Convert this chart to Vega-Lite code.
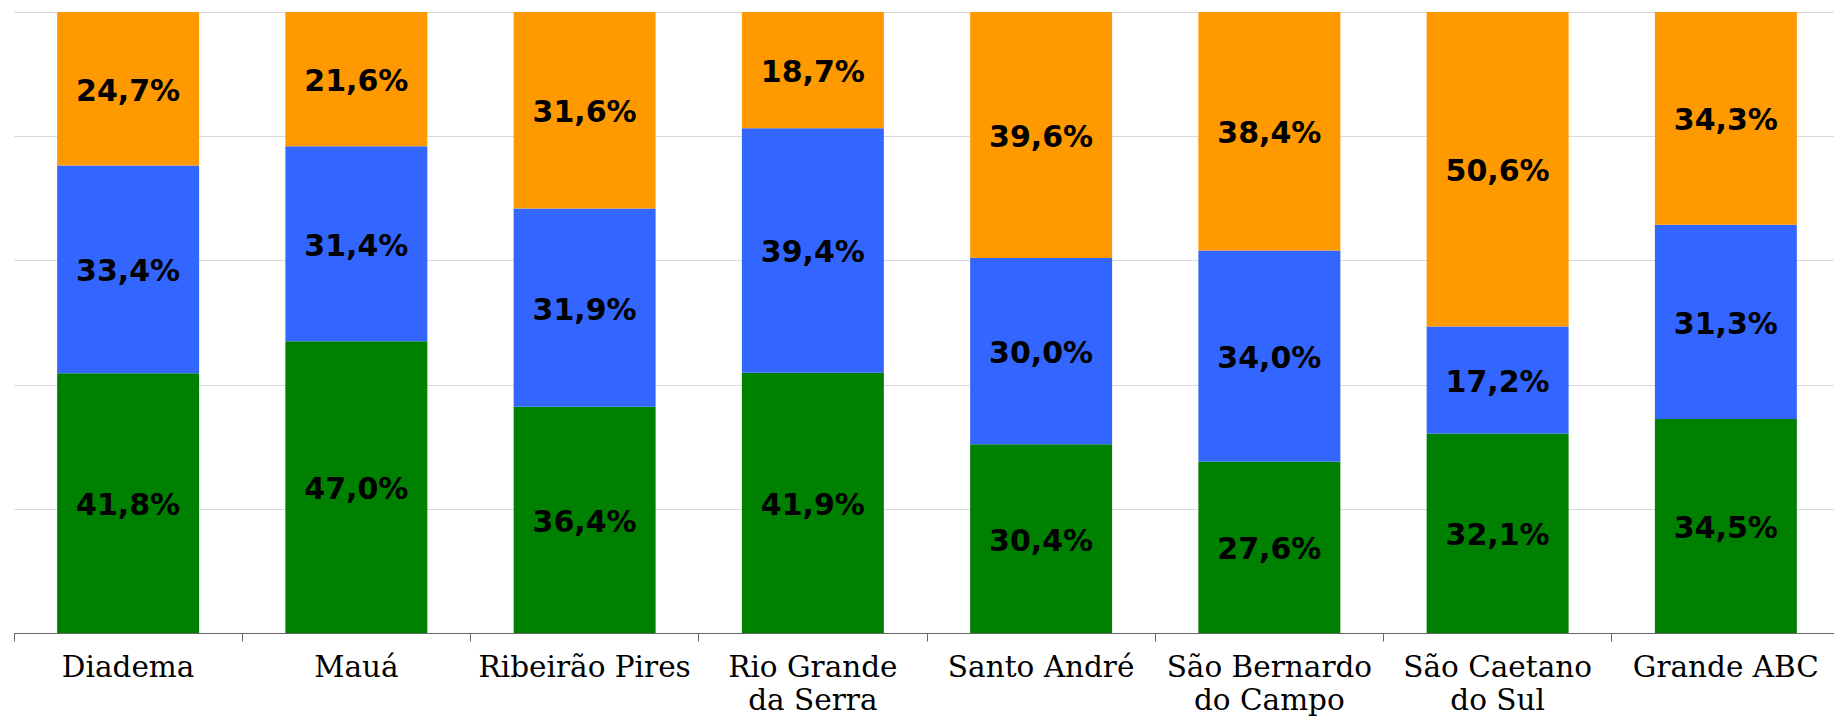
{
  "$schema": "https://vega.github.io/schema/vega-lite/v6.json",
  "width": 1820,
  "height": 621,
  "autosize": {"type": "none"},
  "padding": {"left": 14, "top": 12, "right": 0, "bottom": 84},
  "background": "#ffffff",
  "data": {
    "values": [
      {"cidade": "Diadema", "serie": "S1", "ordem": 1, "valor": 41.8},
      {"cidade": "Diadema", "serie": "S2", "ordem": 2, "valor": 33.4},
      {"cidade": "Diadema", "serie": "S3", "ordem": 3, "valor": 24.7},
      {"cidade": "Mauá", "serie": "S1", "ordem": 1, "valor": 47.0},
      {"cidade": "Mauá", "serie": "S2", "ordem": 2, "valor": 31.4},
      {"cidade": "Mauá", "serie": "S3", "ordem": 3, "valor": 21.6},
      {"cidade": "Ribeirão Pires", "serie": "S1", "ordem": 1, "valor": 36.4},
      {"cidade": "Ribeirão Pires", "serie": "S2", "ordem": 2, "valor": 31.9},
      {"cidade": "Ribeirão Pires", "serie": "S3", "ordem": 3, "valor": 31.6},
      {"cidade": "Rio Grande da Serra", "serie": "S1", "ordem": 1, "valor": 41.9},
      {"cidade": "Rio Grande da Serra", "serie": "S2", "ordem": 2, "valor": 39.4},
      {"cidade": "Rio Grande da Serra", "serie": "S3", "ordem": 3, "valor": 18.7},
      {"cidade": "Santo André", "serie": "S1", "ordem": 1, "valor": 30.4},
      {"cidade": "Santo André", "serie": "S2", "ordem": 2, "valor": 30.0},
      {"cidade": "Santo André", "serie": "S3", "ordem": 3, "valor": 39.6},
      {"cidade": "São Bernardo do Campo", "serie": "S1", "ordem": 1, "valor": 27.6},
      {"cidade": "São Bernardo do Campo", "serie": "S2", "ordem": 2, "valor": 34.0},
      {"cidade": "São Bernardo do Campo", "serie": "S3", "ordem": 3, "valor": 38.4},
      {"cidade": "São Caetano do Sul", "serie": "S1", "ordem": 1, "valor": 32.1},
      {"cidade": "São Caetano do Sul", "serie": "S2", "ordem": 2, "valor": 17.2},
      {"cidade": "São Caetano do Sul", "serie": "S3", "ordem": 3, "valor": 50.6},
      {"cidade": "Grande ABC", "serie": "S1", "ordem": 1, "valor": 34.5},
      {"cidade": "Grande ABC", "serie": "S2", "ordem": 2, "valor": 31.3},
      {"cidade": "Grande ABC", "serie": "S3", "ordem": 3, "valor": 34.3}
    ]
  },
  "transform": [
    {"stack": "valor", "groupby": ["cidade"], "sort": [{"field": "ordem", "order": "ascending"}], "offset": "normalize", "as": ["y0", "y1"]},
    {"calculate": "(datum.y0 + datum.y1) / 2", "as": "ymid"},
    {"calculate": "replace(format(datum.valor, '.1f'), '.', ',') + '%'", "as": "rotulo"}
  ],
  "encoding": {
    "x": {
      "field": "cidade",
      "type": "nominal",
      "sort": null,
      "scale": {"paddingInner": 0, "paddingOuter": 0, "range": [0, 1826]},
      "axis": {
        "title": null,
        "bandPosition": 0,
        "domainColor": "#666666",
        "tickColor": "#666666",
        "tickSize": 8,
        "labelAngle": 0,
        "labelFont": "DejaVu Serif",
        "labelFontSize": 29.5,
        "labelColor": "#000000",
        "labelPadding": 12,
        "labelLineHeight": 33,
        "labelOverlap": false,
        "labelLimit": 0,
        "labelBaseline": "top",
        "labelExpr": "datum.value == 'Rio Grande da Serra' ? ['Rio Grande', 'da Serra'] : datum.value == 'São Bernardo do Campo' ? ['São Bernardo', 'do Campo'] : datum.value == 'São Caetano do Sul' ? ['São Caetano', 'do Sul'] : datum.value",
        "grid": false
      }
    }
  },
  "layer": [
    {
      "mark": {"type": "bar", "width": {"band": 0.622}},
      "encoding": {
        "y": {
          "field": "y0",
          "type": "quantitative",
          "scale": {"domain": [0, 1], "nice": false, "zero": true},
          "axis": {
            "title": null,
            "values": [0, 0.2, 0.4, 0.6, 0.8, 1],
            "labels": false,
            "ticks": false,
            "domain": false,
            "grid": true,
            "gridColor": "#d9d9d9",
            "gridWidth": 1
          }
        },
        "y2": {"field": "y1"},
        "color": {
          "field": "serie",
          "type": "nominal",
          "scale": {"domain": ["S1", "S2", "S3"], "range": ["#008000", "#3366FF", "#FF9900"]},
          "legend": null
        }
      }
    },
    {
      "mark": {"type": "text", "font": "DejaVu Sans", "fontWeight": "bold", "fontSize": 30, "color": "#000000", "baseline": "middle", "align": "center", "dy": 3},
      "encoding": {
        "y": {"field": "ymid", "type": "quantitative"},
        "text": {"field": "rotulo"}
      }
    }
  ],
  "config": {
    "view": {"stroke": null},
    "axis": {"zindex": 0}
  }
}
